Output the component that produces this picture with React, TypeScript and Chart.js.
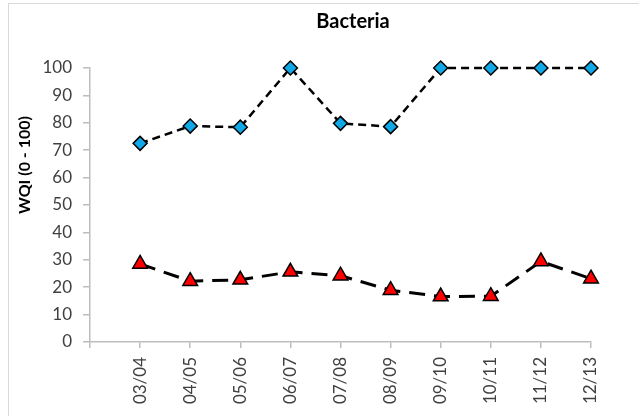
import React, { useEffect, useRef } from 'react';
import { Chart, registerables } from 'chart.js';

Chart.register(...registerables);

const chartTitle = 'Bacteria';
const yAxisTitle = 'WQI (0 - 100)';
const categories = ['03/04', '04/05', '05/06', '06/07', '07/08', '08/09', '09/10', '10/11', '11/12', '12/13'];
const blueValues = [72.5, 78.8, 78.4, 100, 79.8, 78.6, 100, 100, 100, 100];
const redValues = [28.5, 22.2, 22.7, 25.6, 24.2, 18.9, 16.6, 16.7, 29.4, 23.1];
const yMin = 0;
const yMax = 100;
const yStep = 10;

const FONT = "Lato, 'Open Sans', sans-serif";
const AXIS_COLOR = '#bdbdbd';
const TEXT_COLOR = '#404040';

const yTitlePlugin = {
  id: 'yTitleCustom',
  afterDraw(chart: any) {
    const ctx = chart.ctx;
    ctx.save();
    ctx.translate(24.5, 165);
    ctx.rotate(-Math.PI / 2);
    ctx.font = `bold 16px ${FONT}`;
    ctx.fillStyle = '#000';
    ctx.textAlign = 'center';
    ctx.textBaseline = 'middle';
    ctx.fillText(yAxisTitle, 0, 0);
    ctx.restore();
  },
};

export default function App() {
  const ref = useRef<HTMLCanvasElement | null>(null);

  useEffect(() => {
    if (!ref.current) return;
    const labels = ['', ...categories];
    const chart = new Chart(ref.current, {
      type: 'line',
      data: {
        labels,
        datasets: [
          {
            label: 'A',
            data: [null, ...blueValues],
            borderColor: '#000',
            borderWidth: 2.5,
            borderDash: [8, 5],
            pointStyle: 'rectRot',
            pointRadius: 7,
            pointBackgroundColor: '#10A8E6',
            pointBorderColor: '#000',
            pointBorderWidth: 1.5,
            tension: 0,
            clip: false,
          },
          {
            label: 'B',
            data: [null, ...redValues],
            borderColor: '#000',
            borderWidth: 3,
            borderDash: [16, 9],
            pointStyle: 'triangle',
            pointRadius: 8.5,
            pointBackgroundColor: '#FF0000',
            pointBorderColor: '#000',
            pointBorderWidth: 1.5,
            tension: 0,
            clip: false,
          },
        ],
      },
      options: {
        animation: false,
        responsive: false,
        layout: { padding: 0 },
        plugins: {
          legend: { display: false },
          tooltip: { enabled: false },
          title: {
            display: true,
            text: chartTitle,
            color: '#000',
            font: { family: FONT, size: 20, weight: 'bold', lineHeight: 1.2 },
            padding: { top: 10, bottom: 34 },
          },
        },
        scales: {
          x: {
            type: 'category',
            offset: false,
            grid: { display: true, drawOnChartArea: false, drawTicks: true, tickLength: 6, color: AXIS_COLOR, lineWidth: 1.5 },
            border: { display: true, color: AXIS_COLOR, width: 1.5 },
            ticks: {
              autoSkip: false,
              minRotation: 90,
              maxRotation: 90,
              padding: 9,
              color: TEXT_COLOR,
              font: { family: FONT, size: 17 },
            },
            afterFit(scale: any) {
              scale.height = 74;
            },
          },
          y: {
            type: 'linear',
            min: yMin,
            max: yMax,
            grid: { display: true, drawOnChartArea: false, drawTicks: true, tickLength: 7, color: AXIS_COLOR, lineWidth: 1.5 },
            border: { display: true, color: AXIS_COLOR, width: 1.5 },
            ticks: {
              stepSize: yStep,
              padding: 11,
              color: TEXT_COLOR,
              font: { family: FONT, size: 17 },
            },
            afterFit(scale: any) {
              scale.width = 90;
            },
          },
          pad: {
            type: 'linear',
            position: 'right',
            display: true,
            grid: { display: false },
            border: { display: false },
            ticks: { display: false },
            afterFit(scale: any) {
              scale.width = 115;
            },
          },
        },
      },
      plugins: [yTitlePlugin],
    } as any);
    return () => chart.destroy();
  }, []);

  return (
    <div style={{ position: 'absolute', left: 0, top: 0, width: 639, height: 416, overflow: 'hidden', background: '#fff' }}>
      <div
        style={{
          position: 'absolute',
          left: 8,
          top: 3,
          width: 800,
          height: 600,
          borderTop: '1px solid #d9d9d9',
          borderLeft: '1px solid #d9d9d9',
        }}
      />
      <canvas ref={ref} width={706} height={416} style={{ position: 'absolute', left: 0, top: 0, width: 706, height: 416 }} />
    </div>
  );
}
